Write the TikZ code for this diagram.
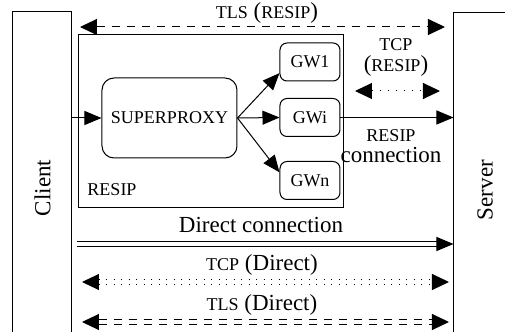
\documentclass[tikz,border=0pt]{standalone}
\usepackage{fontspec}
\setmainfont{Liberation Serif}
\usetikzlibrary{arrows.meta}
\newcommand{\smc}[1]{{\fontsize{9}{10}\selectfont #1}}
\tikzset{
  lbl/.style={inner sep=0pt, align=center, font=\fontsize{11.5}{10.5}\selectfont},
  frame/.style={draw, inner sep=0pt, font=\fontsize{11.5}{13}\selectfont},
  box/.style={draw, rounded corners=6pt, inner sep=0pt, font=\fontsize{9}{11}\selectfont},
  gw/.style={box, rounded corners=3.5pt, minimum width=30pt, minimum height=19pt},
  arr/.style={-{Triangle[length=8.5pt,width=7pt]}},
  twoarr/.style={{Triangle[length=8.5pt,width=8pt]}-{Triangle[length=8.5pt,width=8pt]}},
  dbl/.style={double, double distance=1.9pt}}

\begin{document}
\begin{tikzpicture}[x=0.5pt,y=-0.5pt,line width=0.5pt]
  \useasboundingbox (0,0) rectangle (505,332);
  \clip (0,0) rectangle (505,332);
  % end points
  \node[frame, minimum width=29.5pt, minimum height=176pt] (client) at (42.5,188) {\rotatebox{90}{Client}};
  \node[frame, minimum width=31pt, minimum height=177pt] (server) at (485,190) {\rotatebox{90}{Server}};
  % resip
  \node[frame, minimum width=132.5pt, minimum height=86.5pt] (resip) at (211.5,121.5) {};
  \node[lbl] (resiplbl) at (112,190) {\smc{RESIP}};
  \node[box, minimum width=67.5pt, minimum height=40pt] (sp) at (169.5,118) {SUPERPROXY};
  \node[gw] (gw1) at (310,62) {GW1};
  \node[gw] (gwi) at (310,117.5) {GWi};
  \node[gw] (gwn) at (310,180.5) {GWn};
  \draw[arr] (client.east |- sp.west) -- (sp.west);
  \draw[arr] (sp.east) -- (gw1.200);
  \draw[arr] (sp.east) -- (gwi.west);
  \draw[arr] (sp.east) -- (gwn.165);
  \draw[arr] (gwi.east) -- (server.west |- gwi.east);
  \node[lbl] (rconn) at (391,146) {\smc{RESIP}\\connection};
  % tls/tcp over resip
  \coordinate (tlsrA) at (80,27);
  \coordinate (tlsrB) at (445,27);
  \draw[twoarr, dash pattern=on 4pt off 3.5pt] (tlsrA) -- (tlsrB);
  \node[lbl] (tlsr) at (267,13) {\smc{TLS} (\smc{RESIP})};
  \coordinate (tcprA) at (355,91);
  \coordinate (tcprB) at (440,91);
  \draw[twoarr, dash pattern=on 0.5pt off 3.5pt] (tcprA) -- (tcprB);
  \node[lbl] (tcpr) at (396,57) {\smc{TCP}\\(\smc{RESIP})};
  % direct
  \coordinate (dirA) at (77,244);
  \draw[arr, dbl] (dirA) -- (server.west |- dirA);
  \node[lbl] (dirlbl) at (261,225) {Direct connection};
  \coordinate (tcpdA) at (82,282);
  \coordinate (tcpdB) at (449,282);
  \draw[twoarr, dbl, dash pattern=on 0.5pt off 3.25pt] (tcpdA) -- (tcpdB);
  \node[lbl] (tcpd) at (262,265) {\smc{TCP} (Direct)};
  \coordinate (tlsdA) at (82,322);
  \coordinate (tlsdB) at (449,322);
  \draw[twoarr, dbl, dash pattern=on 4pt off 3.5pt] (tlsdA) -- (tlsdB);
  \node[lbl] (tlsd) at (262,305) {\smc{TLS} (Direct)};
\end{tikzpicture}
\end{document}
